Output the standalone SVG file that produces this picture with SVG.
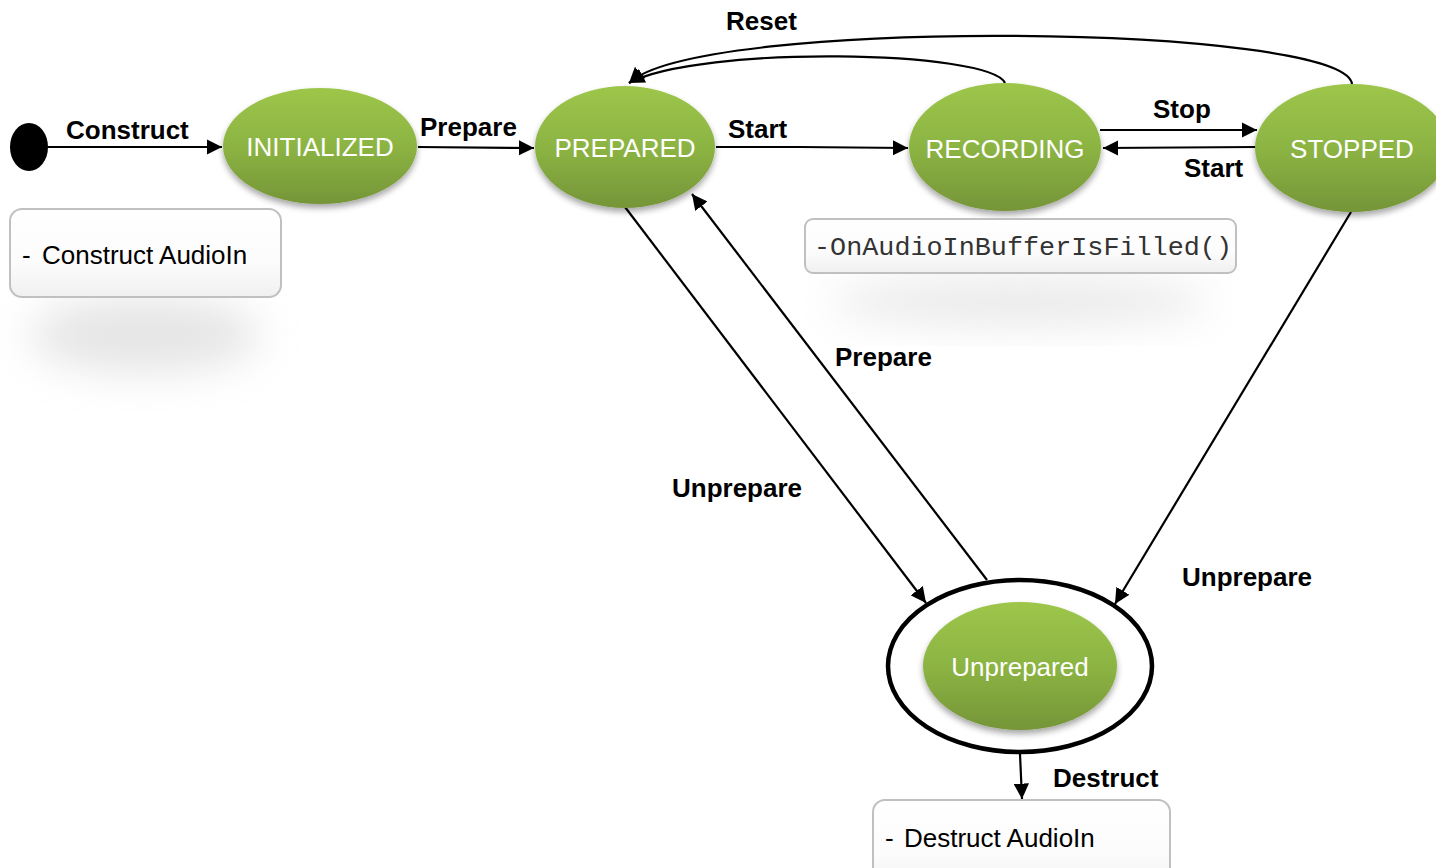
<svg xmlns="http://www.w3.org/2000/svg" width="1436" height="868" viewBox="0 0 1436 868">
<style>
.lbl{font-family:"Liberation Sans",Arial,sans-serif;font-size:26px;font-weight:bold;fill:#000}
.st{font-family:"Liberation Sans",Arial,sans-serif;font-size:26px;fill:#fff;text-anchor:middle}
.note{font-family:"Liberation Sans",Arial,sans-serif;font-size:26px;fill:#000}
.mono{font-family:"Liberation Mono","Courier New",monospace;font-size:26px;fill:#333}
.edge{fill:none;stroke:#000;stroke-width:2.2}
.box{fill:url(#boxg);stroke:#c0c0c0;stroke-width:2}
</style>
<defs>
<linearGradient id="green" x1="0" y1="0" x2="0" y2="1">
<stop offset="0" stop-color="#9dc64a"/>
<stop offset="0.5" stop-color="#8cb443"/>
<stop offset="1" stop-color="#759538"/>
</linearGradient>
<linearGradient id="boxg" x1="0" y1="0" x2="0" y2="1">
<stop offset="0" stop-color="#ffffff"/>
<stop offset="0.6" stop-color="#fcfcfc"/>
<stop offset="1" stop-color="#f0f0f0"/>
</linearGradient>
<filter id="sh" x="-20%" y="-20%" width="140%" height="150%">
<feGaussianBlur in="SourceAlpha" stdDeviation="3"/>
<feOffset dy="4"/>
<feComponentTransfer><feFuncA type="linear" slope="0.35"/></feComponentTransfer>
<feMerge><feMergeNode/><feMergeNode in="SourceGraphic"/></feMerge>
</filter>
<filter id="blur" x="-50%" y="-50%" width="200%" height="200%">
<feGaussianBlur stdDeviation="20"/>
</filter>
<marker id="arr" viewBox="0 0 10 10" refX="10" refY="5" markerWidth="7" markerHeight="7" orient="auto" markerUnits="strokeWidth">
<path d="M0,0 L10,5 L0,10 z" fill="#000"/>
</marker>
</defs>
<rect width="1436" height="868" fill="#fff"/>

<!-- soft shadows under note boxes -->
<ellipse cx="145" cy="335" rx="115" ry="38" fill="#cccccc" opacity="0.5" filter="url(#blur)"/>
<ellipse cx="1020" cy="302" rx="190" ry="22" fill="#cccccc" opacity="0.45" filter="url(#blur)"/>

<g id="connectors">
<line class="edge" x1="48" y1="147" x2="222" y2="147" marker-end="url(#arr)"/>
<line class="edge" x1="418" y1="147" x2="534" y2="148" marker-end="url(#arr)"/>
<path class="edge" d="M716,147 L800,147 L908,148" marker-end="url(#arr)"/>
<line class="edge" x1="1100" y1="130" x2="1257" y2="130" marker-end="url(#arr)"/>
<line class="edge" x1="1256" y1="147" x2="1103" y2="148" marker-end="url(#arr)"/>
<path class="edge" d="M1005,83 C990,50 700,45 629,83" marker-end="url(#arr)"/>
<path class="edge" d="M1352,84 C1345,24 700,16 629,83" marker-end="url(#arr)"/>
<line class="edge" x1="625" y1="207" x2="926" y2="603" marker-end="url(#arr)"/>
<line class="edge" x1="987" y1="580" x2="692" y2="194" marker-end="url(#arr)"/>
<line class="edge" x1="1351" y1="212" x2="1115" y2="604" marker-end="url(#arr)"/>
<line class="edge" x1="1020" y1="754" x2="1022" y2="799" marker-end="url(#arr)"/>
<text class="lbl" x="66" y="139">Construct</text>
<text class="lbl" x="420" y="136">Prepare</text>
<text class="lbl" x="728" y="138">Start</text>
<text class="lbl" x="726" y="30">Reset</text>
<text class="lbl" x="1153" y="118">Stop</text>
<text class="lbl" x="1184" y="177">Start</text>
<text class="lbl" x="835" y="366">Prepare</text>
<text class="lbl" x="672" y="497">Unprepare</text>
<text class="lbl" x="1182" y="586">Unprepare</text>
<text class="lbl" x="1053" y="787">Destruct</text>
</g>

<g id="start">
<ellipse cx="29" cy="147" rx="19" ry="24" fill="#000"/>
</g>

<g id="initialized">
<ellipse cx="320" cy="146" rx="97" ry="58" fill="url(#green)" filter="url(#sh)"/>
<text class="st" x="320" y="156">INITIALIZED</text>
</g>

<g id="prepared">
<ellipse cx="625" cy="147" rx="90" ry="61" fill="url(#green)" filter="url(#sh)"/>
<text class="st" x="625" y="157">PREPARED</text>
</g>

<g id="recording">
<ellipse cx="1005" cy="147" rx="96" ry="64" fill="url(#green)" filter="url(#sh)"/>
<text class="st" x="1005" y="158">RECORDING</text>
</g>

<g id="stopped">
<ellipse cx="1352" cy="148" rx="97" ry="64" fill="url(#green)" filter="url(#sh)"/>
<text class="st" x="1352" y="158">STOPPED</text>
</g>

<g id="unprepared">
<ellipse cx="1020" cy="666" rx="132" ry="86" fill="#fff" stroke="#000" stroke-width="4.5"/>
<ellipse cx="1020" cy="666" rx="97" ry="64" fill="url(#green)" filter="url(#sh)"/>
<text class="st" x="1020" y="676">Unprepared</text>
</g>

<g id="note-construct">
<rect class="box" x="10" y="209" width="271" height="88" rx="12"/>
<text class="note" x="22" y="264">-</text>
<text class="note" x="42" y="264">Construct AudioIn</text>
</g>

<g id="note-buffer">
<rect class="box" x="805" y="219" width="431" height="54" rx="8"/>
<text class="mono" x="814" y="255" textLength="418" lengthAdjust="spacingAndGlyphs">-OnAudioInBufferIsFilled()</text>
</g>

<g id="note-destruct">
<rect class="box" x="873" y="800" width="297" height="90" rx="12"/>
<text class="note" x="885" y="847">-</text>
<text class="note" x="904" y="847">Destruct AudioIn</text>
</g>
</svg>
